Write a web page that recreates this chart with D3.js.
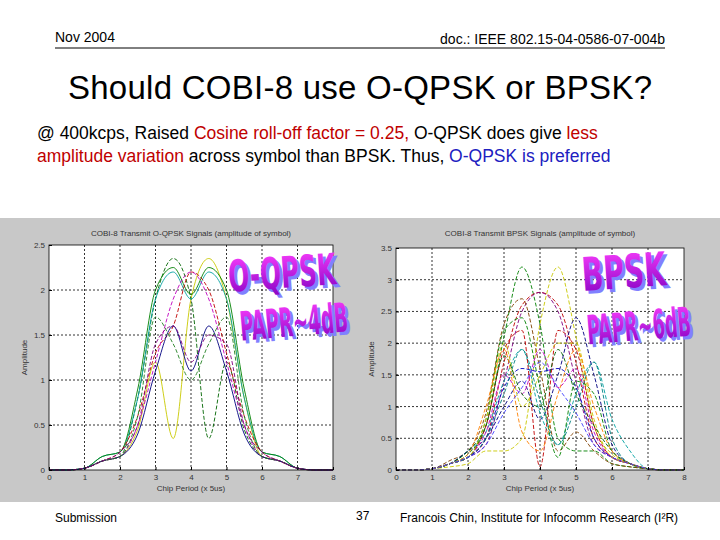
<!DOCTYPE html>
<html><head><meta charset="utf-8">
<script src="https://cdn.jsdelivr.net/npm/d3@7"></script>
<style>body{margin:0;background:#fff}svg{display:block;font-family:'Liberation Sans',Arial,sans-serif}</style>
</head><body><svg width="720" height="540"></svg>
<script>
const xs = [0,0.5,1,1.5,2,2.5,3,3.5,4,4.5,5,5.5,6,6.5,7,7.5,8];
const xTicks = [0,1,2,3,4,5,6,7,8];

// O-QPSK curves
const qpskColors = ['#c8c800','#006400','#00a0a0','#008000','#c00000','#c000c0','#000080','#208020','#800080'];
const qpskDashed = [false,true,false,false,true,true,false,true,true];
const qpskValues = [
  [0,0,0.02,0.1,0.15,0.45,1.2,0.35,1.9,2.35,1.9,0.8,0.15,0.1,0.02,0,0],
  [0,0,0.02,0.1,0.15,0.8,1.9,2.35,1.9,0.35,1.2,0.45,0.15,0.1,0.02,0,0],
  [0,0,0.02,0.15,0.2,0.8,1.9,2.2,1.9,2.2,1.9,0.8,0.2,0.15,0.02,0,0],
  [0,0,0.02,0.15,0.2,0.9,2.0,2.25,1.95,2.25,2.0,0.9,0.2,0.15,0.02,0,0],
  [0,0,0.02,0.1,0.2,0.6,1.3,1.6,2.2,2.0,1.3,0.6,0.2,0.1,0.02,0,0],
  [0,0,0.02,0.1,0.15,0.5,1.2,1.9,2.2,1.9,1.2,0.5,0.15,0.1,0.02,0,0],
  [0,0,0.02,0.1,0.15,0.4,1.1,1.6,1.1,1.6,1.1,0.4,0.15,0.1,0.02,0,0],
  [0,0,0.02,0.1,0.15,0.6,1.7,1.4,1.0,1.4,1.7,0.6,0.15,0.1,0.02,0,0],
  [0,0,0.02,0.1,0.2,0.5,1.4,1.6,1.2,1.5,1.4,0.5,0.2,0.1,0.02,0,0]
];
const qpskTicks = [0,0.5,1,1.5,2,2.5];

// BPSK curves (all dashed)
const bpskColors = ['#008000','#c8c800','#c00000','#800080','#804000','#0000c0','#00a0a0','#c00000','#008000','#000080','#c000c0','#c8c800','#008080','#006400','#ff8000','#4040ff'];
const bpskValues = [
  [0,0,0.02,0.1,0.25,0.7,2.1,3.2,2.3,0.5,0.3,0.3,0.1,0.05,0.02,0,0],
  [0,0,0.02,0.05,0.1,0.3,0.3,0.5,2.3,3.2,2.1,0.7,0.25,0.1,0.02,0,0],
  [0,0,0.02,0.1,0.2,0.5,1.7,2.6,2.8,2.6,1.7,0.5,0.2,0.1,0.02,0,0],
  [0,0,0.02,0.1,0.2,0.4,1.4,2.5,2.8,2.5,1.4,0.4,0.2,0.1,0.02,0,0],
  [0,0,0.02,0.15,0.3,0.9,2.3,2.7,1.6,0.3,0.6,0.3,0.1,0.05,0.02,0,0],
  [0,0,0.02,0.1,0.2,0.5,1.3,1.6,1.55,1.6,1.3,0.5,0.2,0.1,0.02,0,0],
  [0,0,0.02,0.1,0.3,0.6,1.4,1.9,0.9,0.4,1.2,1.7,0.8,0.3,0.02,0,0],
  [0,0,0.02,0.1,0.2,0.7,1.9,2.2,0.05,2.2,1.9,0.7,0.2,0.1,0.02,0,0],
  [0,0,0.02,0.1,0.2,0.8,2.2,2.4,1.3,0.2,1.4,1.2,0.3,0.1,0.02,0,0],
  [0,0,0.02,0.1,0.3,0.5,1.0,1.4,0.8,1.5,2.4,1.5,0.4,0.1,0.02,0,0],
  [0,0,0.02,0.1,0.2,0.6,1.5,1.2,1.9,1.3,1.6,0.6,0.2,0.1,0.02,0,0],
  [0,0,0.02,0.1,0.2,0.8,2.0,1.0,1.5,2.0,2.0,0.8,0.2,0.1,0.02,0,0],
  [0,0,0.02,0.1,0.2,0.5,1.2,1.9,1.1,0.4,1.0,1.7,0.5,0.1,0.02,0,0],
  [0,0,0.02,0.1,0.3,0.7,1.8,1.2,1.0,1.9,1.2,0.7,0.3,0.1,0.02,0,0],
  [0,0,0.02,0.1,0.25,1.0,1.9,0.6,0.3,1.2,1.9,1.0,0.3,0.1,0.02,0,0],
  [0,0,0.02,0.1,0.2,0.4,0.9,1.3,1.7,1.3,0.9,0.4,0.2,0.1,0.02,0,0]
];
const bpskTicks = [0,0.5,1,1.5,2,2.5,3,3.5];

const svg = d3.select('svg');

// header
svg.append('text').attr('x', 55).attr('y', 42).attr('font-size', 14).text('Nov 2004');
svg.append('text').attr('x', 665).attr('y', 44).attr('text-anchor', 'end').attr('font-size', 14).text('doc.: IEEE 802.15-04-0586-07-004b');
svg.append('line').attr('x1', 55).attr('x2', 665).attr('y1', 48).attr('y2', 48).attr('stroke', '#000');
svg.append('text').attr('x', 360).attr('y', 99).attr('text-anchor', 'middle').attr('font-size', 33).attr('textLength', 584).text('Should COBI-8 use O-QPSK or BPSK?');

// body text
const t1 = svg.append('text').attr('x', 37).attr('y', 139).attr('font-size', 17.5);
t1.append('tspan').text('@ 400kcps, Raised ');
t1.append('tspan').attr('fill', '#c00000').text('Cosine roll-off factor = 0.25,');
t1.append('tspan').text(' O-QPSK does give ');
t1.append('tspan').attr('fill', '#c00000').text('less');
const t2 = svg.append('text').attr('x', 37).attr('y', 162).attr('font-size', 17.5);
t2.append('tspan').attr('fill', '#c00000').text('amplitude variation');
t2.append('tspan').text(' across symbol than BPSK. Thus, ');
t2.append('tspan').attr('fill', '#2020c0').text('O-QPSK is preferred');

// grey figure band
svg.append('rect').attr('x', 0).attr('y', 218).attr('width', 720).attr('height', 284).attr('fill', '#c8c8c8');

function panel(x0, x1, yTop, yMax, ticks, title, colors, dashed, values) {
  const x = d3.scaleLinear().domain([0, 8]).range([x0, x1]);
  const y = d3.scaleLinear().domain([0, yMax]).range([470, yTop]);
  const g = svg.append('g');
  g.append('rect').attr('x', x0).attr('y', yTop).attr('width', x1 - x0).attr('height', 470 - yTop).attr('fill', '#fff');
  g.append('g').selectAll('line.v').data(xTicks.slice(1, -1)).join('line')
    .attr('x1', d => x(d)).attr('x2', d => x(d)).attr('y1', yTop).attr('y2', 470)
    .attr('stroke', '#000').attr('stroke-width', 0.8).attr('stroke-dasharray', '2,2');
  g.append('g').selectAll('line.h').data(ticks.slice(1, -1)).join('line')
    .attr('x1', x0).attr('x2', x1).attr('y1', d => y(d)).attr('y2', d => y(d))
    .attr('stroke', '#000').attr('stroke-width', 0.8).attr('stroke-dasharray', '2,2');
  const line = d3.line().x((d, i) => x(xs[i])).y(d => y(Math.max(0, d))).curve(d3.curveMonotoneX);
  values.forEach((v, i) => {
    g.append('path').attr('d', line(v)).attr('fill', 'none').attr('stroke', colors[i])
      .attr('stroke-width', 0.9).attr('stroke-dasharray', dashed[i] ? '4,2' : null);
  });
  g.append('rect').attr('x', x0).attr('y', yTop).attr('width', x1 - x0).attr('height', 470 - yTop)
    .attr('fill', 'none').attr('stroke', '#000').attr('stroke-width', 0.8);
  const ax = g.append('g').attr('transform', 'translate(0,470)')
    .call(d3.axisBottom(x).tickValues(xTicks).tickFormat(d3.format('d')).tickSize(-3).tickPadding(4));
  const ay = g.append('g').attr('transform', `translate(${x0},0)`)
    .call(d3.axisLeft(y).tickValues(ticks).tickFormat(d => d).tickSize(-3).tickPadding(4));
  [ax, ay].forEach(a => { a.select('.domain').remove(); a.selectAll('text').attr('font-size', 8).attr('fill', '#333'); });
  g.append('text').attr('x', (x0 + x1) / 2).attr('y', 236).attr('text-anchor', 'middle').attr('font-size', 8).attr('fill', '#333').text(title);
  g.append('text').attr('x', (x0 + x1) / 2).attr('y', 491).attr('text-anchor', 'middle').attr('font-size', 8).attr('fill', '#333').text('Chip Period (x 5us)');
  g.append('text').attr('transform', `translate(${x0 - 22},${(yTop + 470) / 2}) rotate(-90)`).attr('text-anchor', 'middle').attr('font-size', 8).attr('fill', '#333').text('Amplitude');
}

panel(49, 333, 245, 2.5, qpskTicks, 'COBI-8 Transmit O-QPSK Signals (amplitude of symbol)', qpskColors, qpskDashed, qpskValues);
panel(396, 684, 248, 3.5, bpskTicks, 'COBI-8 Transmit BPSK Signals (amplitude of symbol)', bpskColors, bpskColors.map(() => true), bpskValues);

// word-art labels
const defs = svg.append('defs');
const grad = defs.append('linearGradient').attr('id', 'wa').attr('x1', 0).attr('y1', 0).attr('x2', 0).attr('y2', 1);
grad.append('stop').attr('offset', '0%').attr('stop-color', '#ff40ff');
grad.append('stop').attr('offset', '100%').attr('stop-color', '#8000c0');
const wordArt = [
  {t: 'O-QPSK', x: 283, y: 288, s: 29, w: 108, r: -4},
  {t: 'PAPR~4dB', x: 295, y: 336, s: 27, w: 108, r: -5},
  {t: 'BPSK', x: 625, y: 288, s: 31, w: 84, r: -4},
  {t: 'PAPR~6dB', x: 640, y: 340, s: 27, w: 104, r: -5}
];
wordArt.forEach(w => {
  [[3, '#8080ff'], [0, 'url(#wa)']].forEach(([o, f]) => {
    svg.append('text').attr('transform', `translate(${w.x + o},${w.y + o}) rotate(${w.r}) scale(1,1.5)`)
      .attr('text-anchor', 'middle').attr('font-family', 'DejaVu Sans Condensed')
      .attr('font-weight', 'bold').attr('font-size', w.s).attr('textLength', w.w)
      .attr('lengthAdjust', 'spacingAndGlyphs').attr('fill', f).text(w.t);
  });
});

// footer
svg.append('text').attr('x', 55).attr('y', 522).attr('font-size', 12).text('Submission');
svg.append('text').attr('x', 356).attr('y', 520).attr('font-size', 12).text('37');
svg.append('text').attr('x', 400).attr('y', 522).attr('font-size', 12).text('Francois Chin, Institute for Infocomm Research (I²R)');
</script></body></html>
